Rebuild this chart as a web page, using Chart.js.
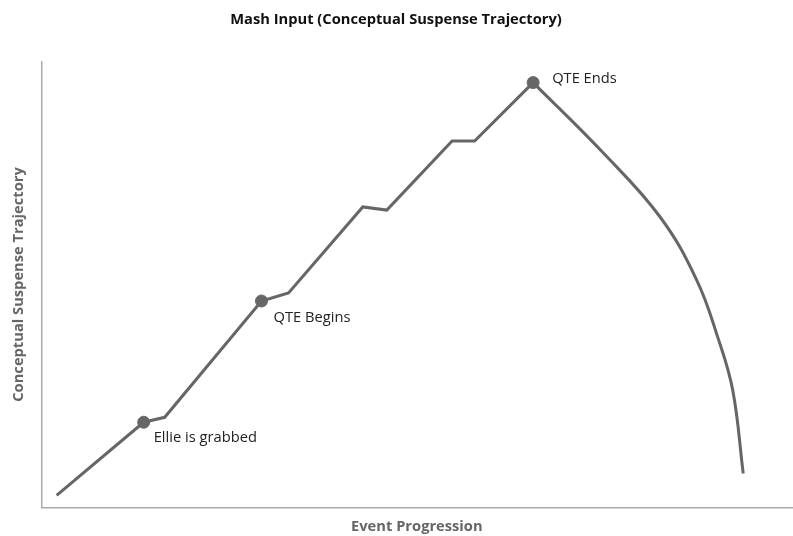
<!DOCTYPE html>
<html>
<head>
<meta charset="utf-8">
<script src="https://cdn.jsdelivr.net/npm/chart.js@4/dist/chart.umd.min.js"></script>
<style>
  html, body { margin: 0; padding: 0; background: #fff; }
  #wrap { width: 793px; height: 536px; }
</style>
</head>
<body>
<div id="wrap"><canvas id="suspense-chart"></canvas></div>
<script>
// rising part (straight segments)
const riseX = [2.0, 13.6, 16.4, 29.3, 32.9, 42.8, 46.0, 54.7, 57.7, 65.5];
const riseY = [2.7, 19.1, 20.2, 46.3, 48.1, 67.4, 66.7, 82.2, 82.2, 95.3];
// fall after the QTE (smooth curve)
const fallX = [65.5, 74.8, 82.4, 87.3, 90.1, 92.1, 93.5];
const fallY = [95.3, 79.6, 65.2, 51.0, 38.2, 26.3, 7.6];
// labelled moments
const eventNames = ["Ellie is grabbed", "QTE Begins", "QTE Ends"];
const eventX = [13.6, 29.3, 65.5];
const eventY = [19.1, 46.3, 95.3];

const lineColor = '#666666';
const fontSize = 14.7;

const risePoints = [];
for (let i = 0; i < riseX.length; i++) {
  risePoints.push({ x: riseX[i], y: riseY[i] });
}
const fallPoints = [];
for (let i = 0; i < fallX.length; i++) {
  fallPoints.push({ x: fallX[i], y: fallY[i] });
}
const eventPoints = [];
for (let i = 0; i < eventX.length; i++) {
  eventPoints.push({ x: eventX[i], y: eventY[i] });
}

// offsets of each label from its marker, in pixels
const labelOffsets = [[10, 16], [12, 17], [19, -4]];

const eventLabels = {
  id: 'eventLabels',
  afterDatasetsDraw(chart) {
    const ctx = chart.ctx;
    const meta = chart.getDatasetMeta(2);
    ctx.save();
    ctx.font = fontSize + 'px "Open Sans"';
    ctx.fillStyle = '#222';
    ctx.textAlign = 'left';
    ctx.textBaseline = 'middle';
    meta.data.forEach((pt, i) => {
      ctx.fillText(eventNames[i], pt.x + labelOffsets[i][0], pt.y + labelOffsets[i][1]);
    });
    ctx.restore();
  }
};

new Chart(document.getElementById('suspense-chart'), {
  type: 'line',
  data: {
    datasets: [{
      data: risePoints,
      borderColor: lineColor,
      borderWidth: 3,
      pointRadius: 0,
      tension: 0
    }, {
      data: fallPoints,
      borderColor: lineColor,
      borderWidth: 3,
      pointRadius: 0,
      tension: 0.4
    }, {
      data: eventPoints,
      showLine: false,
      pointRadius: 6,
      pointBackgroundColor: lineColor,
      pointBorderColor: lineColor
    }]
  },
  options: {
    responsive: true,
    maintainAspectRatio: false,
    animation: false,
    layout: { autoPadding: false, padding: { left: 0, right: 1, top: 0, bottom: 0 } },
    plugins: {
      legend: { display: false },
      tooltip: { enabled: false },
      title: {
        display: true,
        text: 'Mash Input (Conceptual Suspense Trajectory)',
        color: '#111',
        font: { family: 'Open Sans', size: fontSize, weight: 'bold' },
        padding: { top: 11, bottom: 33 }
      }
    },
    scales: {
      x: {
        type: 'linear',
        min: 0,
        max: 100,
        ticks: { display: false },
        grid: { display: false, drawTicks: false },
        border: { color: '#aaa', width: 1.5 },
        title: {
          display: true,
          text: 'Event Progression',
          color: '#666',
          font: { family: 'Open Sans', size: fontSize, weight: 'bold' },
          padding: { top: 11, bottom: 0 }
        }
      },
      y: {
        type: 'linear',
        min: 0,
        max: 100,
        ticks: { display: false },
        grid: { display: false, drawTicks: false },
        border: { color: '#aaa', width: 1.5 },
        title: {
          display: true,
          text: 'Conceptual Suspense Trajectory',
          color: '#666',
          font: { family: 'Open Sans', size: fontSize, weight: 'bold' },
          padding: { top: 10, bottom: 14 }
        }
      }
    }
  },
  plugins: [eventLabels]
});
</script>
</body>
</html>
